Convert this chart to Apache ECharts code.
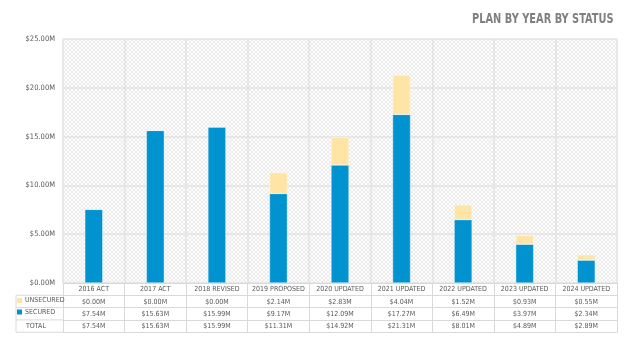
<!DOCTYPE html>
<html><head><meta charset="utf-8">
<script src="https://cdn.jsdelivr.net/npm/echarts@6/dist/echarts.min.js"></script>
<style>html,body{margin:0;padding:0;background:#fff}#c{width:627px;height:338px}</style>
</head><body><div id="c"></div>
<script>
const categories = ['2016 ACT','2017 ACT','2018 REVISED','2019 PROPOSED','2020 UPDATED','2021 UPDATED','2022 UPDATED','2023 UPDATED','2024 UPDATED'];
const unsecured = [0.00, 0.00, 0.00, 2.14, 2.83, 4.04, 1.52, 0.93, 0.55];
const secured = [7.54, 15.63, 15.99, 9.17, 12.09, 17.27, 6.49, 3.97, 2.34];
const totals = [7.54, 15.63, 15.99, 11.31, 14.92, 21.31, 8.01, 4.89, 2.89];
const yTicks = [0, 5, 10, 15, 20, 25];

const FONT = "'Liberation Sans Narrow','DejaVu Sans Condensed',sans-serif";
const TXT = '#595959';
const LINE = '#d9d9d9';
const fmt = v => '$' + v.toFixed(2) + 'M';

// hatch pattern for plot background
const pc = document.createElement('canvas');
pc.width = 4; pc.height = 4;
const g = pc.getContext('2d');
g.fillStyle = '#fcfcfc'; g.fillRect(0,0,4,4);
g.fillStyle = '#ececec';
for (let i = 0; i < 4; i++) { g.fillRect(i, i, 1, 1); g.fillRect(3 - i, i, 1, 1); }

const chart = echarts.init(document.getElementById('c'), null, {renderer: 'canvas'});

function tableAxis(offset, labels, showLabels) {
  return {
    type: 'category', data: categories, position: 'bottom', offset: offset, gridIndex: 0,
    axisLine: {show: true, lineStyle: {color: LINE, width: 1}},
    axisTick: {show: showLabels, length: 12.3, inside: false, lineStyle: {color: LINE, width: 1}},
    axisLabel: {show: showLabels, interval: 0, margin: 3, fontSize: 7, fontFamily: FONT, color: TXT,
      formatter: (v, i) => labels ? labels[i] : v},
    splitLine: {show: false}
  };
}

chart.setOption({
  animation: false,
  backgroundColor: '#fff',
  grid: {left: 63, right: 10, top: 39, bottom: 55, show: true,
    backgroundColor: {image: pc, repeat: 'repeat'}, borderWidth: 0},
  legend: {orient: 'vertical', left: 17, top: 297, itemGap: 4.5, itemWidth: 5, itemHeight: 5,
    icon: 'rect', itemStyle: {borderWidth: 0},
    textStyle: {fontSize: 7, fontFamily: FONT, color: TXT, padding: [0,0,0,-2]},
    data: ['UNSECURED', 'SECURED'], padding: 0},
  xAxis: [
    Object.assign(tableAxis(0, null, true), {
      splitLine: {show: true, interval: 0, lineStyle: {color: '#e3e3e3', width: 1.5}}
    }),
    tableAxis(12.3, unsecured.map(fmt), true),
    tableAxis(24.6, secured.map(fmt), true),
    tableAxis(36.9, totals.map(fmt), true),
    tableAxis(49.2, null, false)
  ],
  yAxis: {
    type: 'value', min: 0, max: 25, interval: 5,
    axisLine: {show: false}, axisTick: {show: false},
    axisLabel: {fontSize: 7.5, fontFamily: FONT, color: TXT, margin: 8,
      formatter: v => yTicks.includes(v) ? fmt(v) : ''},
    splitLine: {lineStyle: {color: '#e3e3e3', width: 1.5}}
  },
  series: [
    {name: 'SECURED', type: 'bar', stack: 's', data: secured, barWidth: '29%', xAxisIndex: 0,
      itemStyle: {color: '#0093d0', borderColor: '#ffffff', borderWidth: 0.4}},
    {name: 'UNSECURED', type: 'bar', stack: 's', data: unsecured, barWidth: '29%', xAxisIndex: 0,
      itemStyle: {color: '#ffe5a5', borderColor: '#ffffff', borderWidth: 0.4}}
  ],
  graphic: [
    {type: 'text', x: 472, y: 12, scaleX: 0.81, originX: 0,
      style: {text: 'PLAN BY YEAR BY STATUS', align: 'left', verticalAlign: 'top',
        fontSize: 13.5, fontWeight: 'bold', fontFamily: FONT, fill: '#808080'}},
    {type: 'text', left: 26, top: 323, style: {text: 'TOTAL', fontSize: 7, fontFamily: FONT, fill: TXT}},
    {type: 'line', shape: {x1: 16, y1: 295.3, x2: 63, y2: 295.3}, style: {stroke: LINE, lineWidth: 1}},
    {type: 'line', shape: {x1: 16, y1: 307.6, x2: 63, y2: 307.6}, style: {stroke: LINE, lineWidth: 1}},
    {type: 'line', shape: {x1: 16, y1: 319.9, x2: 63, y2: 319.9}, style: {stroke: LINE, lineWidth: 1}},
    {type: 'line', shape: {x1: 16, y1: 332.2, x2: 63, y2: 332.2}, style: {stroke: LINE, lineWidth: 1}},
    {type: 'line', shape: {x1: 16, y1: 295.3, x2: 16, y2: 332.2}, style: {stroke: LINE, lineWidth: 1}}
  ]
});
</script></body></html>
